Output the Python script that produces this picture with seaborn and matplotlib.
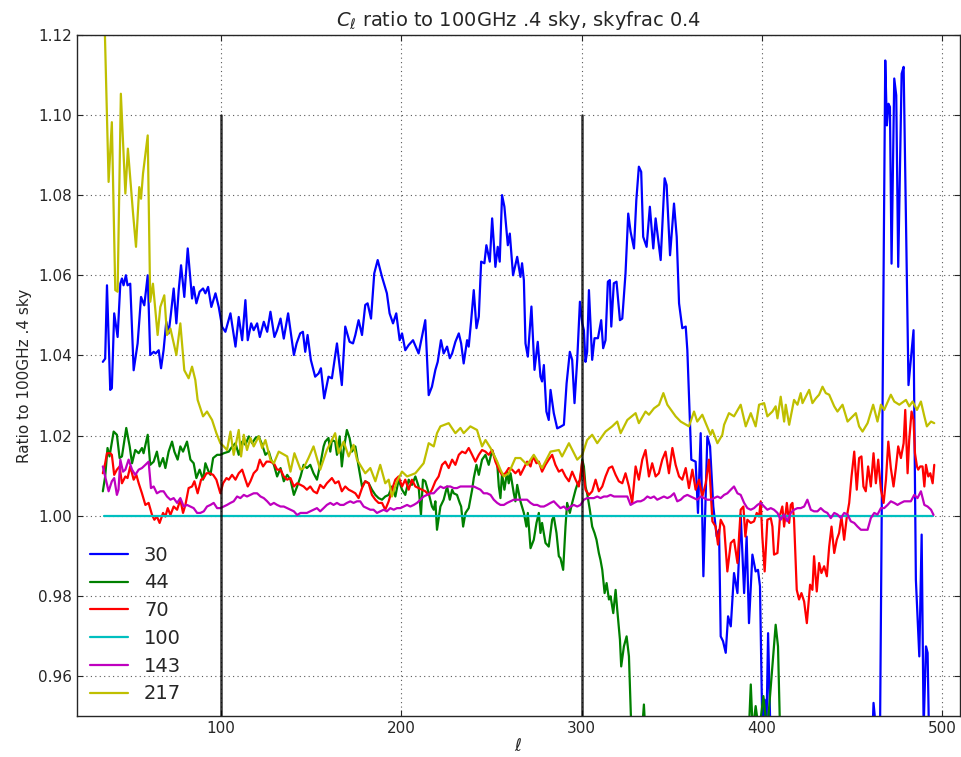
import numpy as np
import pandas as pd
import matplotlib
matplotlib.use('Agg')
import matplotlib.pyplot as plt
import seaborn as sns

sns.set_style('ticks')
plt.rcParams['font.family'] = ['DejaVu Sans']
plt.rcParams['mathtext.fontset'] = 'dejavusans'

# 30 GHz
ell_30 = [34.4, 35.7, 36.7, 38.5, 39.4, 40.7, 42.6, 44.1, 45.0, 45.9, 47.2, 48.1, 49.6, 51.5, 53.7, 55.6, 57.4,
          59.3, 60.7, 62.6, 63.7, 65.4, 66.7, 68.1, 69.6, 70.9, 72.2, 73.7, 75.2, 76.5, 77.8, 79.6, 81.5, 83.9,
          84.8, 86.3, 88.1, 90.0, 91.3, 92.8, 94.6, 96.9, 98.7, 100.6, 102.4, 105.2, 108.0, 109.8, 111.7, 113.5,
          114.8, 116.7, 118.1, 120.0, 121.5, 123.7, 125.6, 127.4, 129.6, 131.1, 133.0, 134.8, 137.2, 140.4,
          141.9, 143.9, 145.4, 146.7, 148.0, 149.8, 152.2, 154.1, 155.4, 157.2, 159.6, 161.5, 164.3, 167.0,
          168.9, 171.3, 173.2, 174.5, 176.3, 178.2, 180.0, 181.3, 183.2, 185.0, 186.9, 189.3, 192.0, 193.5,
          195.4, 197.2, 199.1, 200.4, 202.2, 204.1, 206.5, 209.6, 213.3, 215.2, 217.0, 218.9, 220.2, 222.0,
          223.5, 225.4, 226.9, 228.2, 230.0, 231.9, 233.2, 234.6, 236.5, 237.4, 238.7, 240.2, 241.7, 243.0,
          244.3, 246.1, 247.2, 249.1, 250.4, 252.2, 253.5, 254.6, 255.9, 257.2, 259.1, 260.2, 262.0, 264.3,
          266.1, 267.0, 268.0, 268.9, 270.2, 272.2, 273.9, 275.7, 277.2, 278.1, 279.1, 280.5, 281.8, 282.8,
          284.6, 286.5, 288.3, 290.2, 291.7, 293.5, 294.8, 296.1, 297.6, 299.1, 300.4, 301.3, 302.2, 303.1,
          304.1, 305.9, 307.2, 309.1, 310.9, 312.0, 313.3, 314.6, 315.7, 316.5, 317.9, 319.4, 321.3, 322.6,
          324.4, 325.9, 327.2, 329.1, 330.4, 331.8, 333.1, 334.2, 336.1, 337.9, 339.8, 341.1, 343.9, 346.1,
          347.2, 349.1, 351.3, 352.8, 354.1, 355.9, 357.8, 358.7, 360.9, 363.3, 364.6, 366.1, 367.6, 369.8,
          371.3, 373.1, 375.0, 376.3, 377.2, 378.5, 380.0, 381.3, 382.8, 384.6, 386.5, 388.3, 390.2, 391.6,
          392.9, 394.8, 396.6, 397.9, 399.0, 400.3, 401.6, 402.6, 403.5, 405.0, 430.0, 461.0, 462.0, 463.3,
          465.5, 468.5, 469.4, 470.3, 471.1, 472.0, 473.5, 474.6, 475.7, 477.6, 478.7, 481.4, 484.2, 485.5,
          487.4, 488.7, 489.8, 491.1, 492.0, 492.9, 494.0]
ratio_30 = [1.0384, 1.0392, 1.0575, 1.0314, 1.0318, 1.0505, 1.0446, 1.0579, 1.0592, 1.0575, 1.0600, 1.0575,
            1.0579, 1.0363, 1.0430, 1.0546, 1.0525, 1.0600, 1.0401, 1.0409, 1.0405, 1.0413, 1.0368, 1.0413,
            1.0484, 1.0455, 1.0505, 1.0567, 1.0480, 1.0563, 1.0625, 1.0546, 1.0667, 1.0542, 1.0571, 1.0530,
            1.0559, 1.0567, 1.0555, 1.0571, 1.0521, 1.0555, 1.0521, 1.0471, 1.0459, 1.0505, 1.0422, 1.0496,
            1.0438, 1.0538, 1.0438, 1.0480, 1.0463, 1.0480, 1.0446, 1.0484, 1.0459, 1.0509, 1.0446, 1.0463,
            1.0492, 1.0442, 1.0505, 1.0401, 1.0430, 1.0455, 1.0459, 1.0409, 1.0451, 1.0389, 1.0347, 1.0355,
            1.0368, 1.0293, 1.0347, 1.0343, 1.0430, 1.0326, 1.0472, 1.0434, 1.0430, 1.0451, 1.0488, 1.0451,
            1.0526, 1.0530, 1.0492, 1.0605, 1.0638, 1.0596, 1.0555, 1.0505, 1.0480, 1.0505, 1.0438, 1.0455,
            1.0413, 1.0426, 1.0438, 1.0405, 1.0488, 1.0301, 1.0322, 1.0364, 1.0384, 1.0438, 1.0405, 1.0422,
            1.0393, 1.0405, 1.0434, 1.0455, 1.0430, 1.0380, 1.0438, 1.0422, 1.0484, 1.0563, 1.0468, 1.0497,
            1.0634, 1.0630, 1.0675, 1.0634, 1.0742, 1.0621, 1.0671, 1.0634, 1.0800, 1.0771, 1.0675, 1.0704,
            1.0600, 1.0646, 1.0596, 1.0630, 1.0588, 1.0430, 1.0397, 1.0522, 1.0364, 1.0434, 1.0347, 1.0335,
            1.0376, 1.0260, 1.0239, 1.0314, 1.0256, 1.0218, 1.0222, 1.0227, 1.0330, 1.0409, 1.0389, 1.0281,
            1.0389, 1.0534, 1.0480, 1.0463, 1.0384, 1.0409, 1.0563, 1.0389, 1.0443, 1.0443, 1.0488, 1.0418,
            1.0438, 1.0584, 1.0588, 1.0472, 1.0580, 1.0584, 1.0488, 1.0492, 1.0605, 1.0754, 1.0709, 1.0667,
            1.0788, 1.0871, 1.0858, 1.0696, 1.0671, 1.0771, 1.0667, 1.0742, 1.0638, 1.0842, 1.0825, 1.0650,
            1.0779, 1.0696, 1.0530, 1.0468, 1.0472, 1.0413, 1.0140, 1.0135, 1.0007, 1.0206, 0.9849, 1.0198,
            1.0173, 1.0023, 0.9948, 0.9965, 0.9699, 0.9687, 0.9658, 0.9749, 0.9724, 0.9857, 0.9807, 1.0003,
            0.9807, 0.9948, 0.9732, 0.9903, 0.9861, 0.9865, 0.9824, 0.9470, 0.9541, 0.9470, 0.9707, 0.9420,
            0.9200, 0.9400, 0.9533, 0.9470, 0.9400, 1.1136, 1.0974, 1.1028, 1.1020, 1.0629, 1.1091, 1.1049,
            1.0621, 1.1103, 1.1120, 1.0326, 1.0463, 0.9840, 0.9649, 0.9953, 0.9470, 0.9674, 0.9658, 0.9420,
            0.9300]

# 44 GHz
ell_44 = [34.4, 35.7, 37.0, 38.1, 40.4, 42.2, 43.7, 45.0, 47.4, 49.3, 50.6, 52.4, 54.3, 56.1, 57.0, 59.3, 60.7,
          62.6, 64.4, 65.9, 67.8, 69.1, 70.9, 72.8, 74.1, 75.9, 77.4, 78.9, 81.1, 83.0, 84.8, 86.3, 88.1, 90.0,
          91.3, 93.1, 94.1, 95.6, 97.8, 99.6, 101.5, 104.3, 105.6, 108.0, 109.8, 111.7, 113.5, 115.4, 117.2,
          119.1, 120.9, 122.8, 124.6, 126.5, 127.8, 129.3, 131.1, 133.0, 134.8, 136.7, 138.5, 140.4, 142.2,
          144.1, 145.8, 147.6, 149.5, 151.3, 153.2, 155.0, 156.9, 157.8, 159.6, 160.6, 161.5, 163.3, 164.3,
          165.8, 167.0, 168.0, 169.8, 171.3, 172.6, 174.5, 176.3, 178.2, 180.0, 181.9, 183.7, 185.6, 187.4,
          189.3, 191.1, 193.0, 194.8, 196.7, 198.5, 200.4, 202.2, 204.1, 205.9, 207.8, 209.6, 210.9, 212.0,
          213.3, 215.2, 217.0, 218.0, 218.9, 219.8, 221.7, 223.5, 225.4, 226.9, 228.2, 229.1, 230.9, 232.4,
          233.2, 234.3, 235.6, 237.4, 239.3, 240.2, 241.7, 243.0, 244.8, 246.7, 248.5, 250.4, 251.3, 253.2,
          254.1, 255.0, 255.9, 257.2, 258.7, 259.6, 260.6, 262.4, 263.3, 264.3, 266.1, 268.0, 269.4, 270.2,
          271.7, 273.5, 275.0, 276.3, 277.2, 278.1, 280.0, 281.8, 283.7, 284.6, 286.1, 287.4, 288.3, 289.8,
          291.1, 292.0, 293.5, 294.8, 296.7, 297.9, 299.4, 300.4, 301.3, 302.2, 303.1, 304.6, 305.9, 307.2,
          308.3, 309.6, 310.5, 311.5, 312.8, 313.9, 315.2, 316.1, 317.6, 318.9, 319.8, 321.3, 322.0, 323.5,
          325.0, 326.3, 327.6, 330.0, 333.5, 334.6, 335.5, 360.0, 392.8, 393.9, 395.0, 396.6, 398.5, 400.9,
          403.0, 407.7, 409.0, 410.1, 450.0, 495.0]
ratio_44 = [1.0061, 1.0098, 1.0169, 1.0148, 1.0210, 1.0202, 1.0144, 1.0148, 1.0219, 1.0173, 1.0131, 1.0164,
            1.0156, 1.0169, 1.0156, 1.0202, 1.0127, 1.0135, 1.0160, 1.0123, 1.0144, 1.0119, 1.0160, 1.0185,
            1.0160, 1.0140, 1.0173, 1.0160, 1.0185, 1.0140, 1.0131, 1.0094, 1.0115, 1.0090, 1.0131, 1.0110,
            1.0102, 1.0144, 1.0152, 1.0152, 1.0156, 1.0160, 1.0169, 1.0181, 1.0152, 1.0185, 1.0177, 1.0198,
            1.0181, 1.0194, 1.0198, 1.0177, 1.0152, 1.0160, 1.0140, 1.0127, 1.0098, 1.0119, 1.0086, 1.0102,
            1.0090, 1.0052, 1.0073, 1.0098, 1.0127, 1.0119, 1.0127, 1.0106, 1.0090, 1.0127, 1.0173, 1.0185,
            1.0194, 1.0160, 1.0189, 1.0185, 1.0152, 1.0198, 1.0123, 1.0164, 1.0214, 1.0194, 1.0160, 1.0173,
            1.0123, 1.0073, 1.0086, 1.0081, 1.0065, 1.0052, 1.0044, 1.0040, 1.0048, 1.0052, 1.0073, 1.0048,
            1.0090, 1.0065, 1.0052, 1.0090, 1.0077, 1.0098, 1.0073, 1.0002, 1.0090, 1.0086, 1.0056, 1.0023,
            1.0015, 1.0036, 0.9965, 1.0023, 1.0040, 1.0073, 1.0040, 1.0065, 1.0056, 1.0052, 1.0032, 1.0023,
            0.9973, 1.0007, 1.0019, 1.0065, 1.0094, 1.0127, 1.0102, 1.0140, 1.0152, 1.0127, 1.0164, 1.0152,
            1.0131, 1.0073, 1.0044, 1.0106, 1.0065, 1.0110, 1.0081, 1.0106, 1.0056, 1.0036, 1.0077, 1.0036,
            1.0007, 0.9973, 1.0007, 0.9919, 0.9940, 0.9982, 1.0007, 0.9957, 0.9982, 0.9932, 0.9923, 0.9990,
            0.9998, 0.9957, 0.9899, 0.9894, 0.9865, 0.9973, 1.0032, 1.0007, 1.0032, 1.0065, 1.0081, 1.0090,
            1.0140, 1.0123, 1.0073, 1.0056, 1.0015, 0.9973, 0.9957, 0.9940, 0.9907, 0.9890, 0.9865, 0.9807,
            0.9832, 0.9791, 0.9799, 0.9757, 0.9815, 0.9766, 0.9691, 0.9624, 0.9674, 0.9699, 0.9649, 0.9470,
            0.9400, 0.9460, 0.9529, 0.9450, 0.9300, 0.9460, 0.9579, 0.9460, 0.9525, 0.9460, 0.9550, 0.9460,
            0.9728, 0.9674, 0.9470, 0.9300, 0.9300]

# 70 GHz
ell_70 = [34.4, 35.7, 36.7, 38.5, 39.4, 40.7, 42.2, 43.7, 45.0, 46.9, 48.1, 49.6, 51.5, 53.0, 54.3, 56.1, 58.0,
          59.8, 61.7, 63.0, 64.4, 65.9, 67.8, 69.1, 70.4, 71.9, 73.7, 75.6, 77.4, 78.9, 80.2, 82.0, 83.9, 85.2,
          87.0, 88.9, 90.4, 91.9, 93.7, 95.6, 97.4, 99.6, 101.1, 103.0, 104.3, 106.1, 108.0, 109.8, 111.7,
          113.5, 114.8, 116.3, 118.1, 120.0, 121.5, 123.3, 125.2, 127.0, 129.3, 131.1, 133.0, 134.8, 136.7,
          138.5, 140.4, 142.2, 144.1, 145.8, 147.6, 149.5, 151.3, 153.2, 155.0, 156.9, 158.7, 161.5, 163.3,
          165.2, 167.0, 168.9, 170.8, 172.6, 174.5, 176.3, 178.2, 180.0, 181.9, 183.7, 185.6, 187.4, 189.3,
          191.1, 193.0, 194.8, 196.7, 198.5, 200.4, 202.2, 204.1, 205.9, 207.8, 209.6, 211.5, 213.3, 215.2,
          217.0, 218.9, 220.7, 222.6, 224.4, 226.3, 228.2, 230.0, 231.9, 233.7, 235.6, 237.4, 239.3, 241.1,
          243.0, 244.8, 246.7, 248.5, 250.4, 252.2, 254.1, 255.9, 257.8, 259.6, 261.5, 263.3, 265.2, 266.1,
          268.0, 269.8, 271.7, 273.1, 275.0, 276.3, 278.1, 280.0, 281.8, 283.7, 285.5, 287.4, 289.2, 291.1,
          293.0, 294.8, 296.7, 298.5, 300.4, 302.2, 304.1, 305.9, 307.8, 309.6, 311.5, 313.3, 315.2, 317.0,
          318.9, 320.7, 322.6, 324.4, 326.3, 328.1, 330.0, 331.8, 333.7, 335.5, 337.4, 339.2, 341.1, 342.9,
          344.8, 346.6, 348.5, 350.4, 352.2, 354.1, 355.9, 357.8, 359.6, 361.5, 363.3, 365.2, 367.0, 368.9,
          370.7, 372.6, 374.4, 375.7, 377.2, 379.1, 380.9, 382.8, 384.6, 386.5, 388.3, 389.8, 390.9, 392.0,
          393.9, 395.7, 397.2, 398.5, 399.4, 400.3, 401.6, 403.1, 405.0, 405.9, 406.8, 408.7, 410.2, 411.4,
          412.4, 413.9, 415.2, 416.1, 417.0, 417.9, 419.4, 420.7, 422.0, 423.5, 425.0, 426.8, 428.1, 429.0,
          430.5, 431.8, 433.1, 434.6, 436.1, 437.4, 438.7, 440.2, 441.6, 442.9, 444.2, 445.7, 447.2, 448.5,
          449.8, 451.3, 452.7, 454.0, 455.3, 456.4, 457.7, 459.0, 460.5, 462.0, 463.3, 464.6, 466.1, 467.6,
          468.9, 470.2, 471.6, 473.1, 474.4, 475.7, 477.2, 478.7, 479.6, 480.9, 481.8, 483.1, 484.2, 485.0,
          486.1, 486.8, 487.9, 489.2, 490.2, 491.1, 492.4, 493.5, 494.8, 495.7]
ratio_70 = [1.0106, 1.0131, 1.0156, 1.0156, 1.0152, 1.0102, 1.0115, 1.0123, 1.0081, 1.0098, 1.0094, 1.0123,
            1.0090, 1.0102, 1.0081, 1.0056, 1.0027, 1.0032, 1.0002, 0.9990, 0.9998, 0.9982, 1.0007, 0.9998,
            1.0019, 1.0002, 1.0023, 1.0015, 1.0040, 1.0007, 1.0027, 1.0069, 1.0073, 1.0086, 1.0056, 1.0090,
            1.0094, 1.0106, 1.0106, 1.0102, 1.0090, 1.0056, 1.0081, 1.0094, 1.0090, 1.0102, 1.0090, 1.0106,
            1.0115, 1.0090, 1.0073, 1.0086, 1.0106, 1.0115, 1.0140, 1.0123, 1.0135, 1.0135, 1.0131, 1.0115,
            1.0115, 1.0098, 1.0090, 1.0094, 1.0073, 1.0081, 1.0077, 1.0073, 1.0065, 1.0073, 1.0061, 1.0056,
            1.0077, 1.0069, 1.0081, 1.0094, 1.0081, 1.0086, 1.0061, 1.0073, 1.0065, 1.0061, 1.0056, 1.0044,
            1.0069, 1.0086, 1.0081, 1.0052, 1.0040, 1.0032, 1.0032, 1.0015, 1.0036, 1.0065, 1.0090, 1.0098,
            1.0073, 1.0090, 1.0065, 1.0090, 1.0073, 1.0069, 1.0065, 1.0061, 1.0052, 1.0065, 1.0086, 1.0098,
            1.0127, 1.0135, 1.0119, 1.0140, 1.0127, 1.0152, 1.0160, 1.0156, 1.0169, 1.0152, 1.0135, 1.0152,
            1.0164, 1.0160, 1.0152, 1.0164, 1.0135, 1.0115, 1.0102, 1.0106, 1.0119, 1.0115, 1.0106, 1.0115,
            1.0102, 1.0119, 1.0135, 1.0123, 1.0148, 1.0131, 1.0135, 1.0110, 1.0127, 1.0140, 1.0152, 1.0127,
            1.0110, 1.0115, 1.0098, 1.0086, 1.0110, 1.0090, 1.0073, 1.0135, 1.0065, 1.0052, 1.0061, 1.0090,
            1.0061, 1.0073, 1.0098, 1.0119, 1.0123, 1.0102, 1.0086, 1.0081, 1.0106, 1.0073, 1.0032, 1.0123,
            1.0090, 1.0140, 1.0164, 1.0098, 1.0131, 1.0098, 1.0106, 1.0140, 1.0160, 1.0106, 1.0169, 1.0127,
            1.0098, 1.0090, 1.0119, 1.0069, 1.0115, 1.0065, 1.0090, 1.0048, 1.0081, 1.0140, 0.9986, 0.9973,
            0.9928, 0.9990, 0.9973, 0.9861, 0.9932, 0.9940, 0.9882, 1.0015, 1.0023, 0.9948, 0.9990, 0.9982,
            0.9986, 1.0007, 0.9998, 1.0036, 0.9948, 0.9861, 0.9990, 0.9994, 0.9973, 0.9903, 0.9907, 1.0003,
            1.0023, 0.9973, 1.0032, 0.9982, 1.0027, 1.0032, 0.9990, 0.9815, 0.9791, 0.9807, 0.9786, 0.9732,
            0.9828, 0.9815, 0.9899, 0.9811, 0.9882, 0.9857, 0.9874, 0.9849, 0.9923, 0.9973, 0.9907, 0.9940,
            0.9957, 0.9998, 0.9940, 0.9998, 1.0032, 1.0098, 1.0160, 1.0065, 1.0144, 1.0148, 1.0073, 1.0061,
            1.0123, 1.0073, 1.0156, 1.0081, 1.0140, 1.0065, 1.0032, 1.0090, 1.0185, 1.0119, 1.0073, 1.0119,
            1.0173, 1.0144, 1.0181, 1.0264, 1.0106, 1.0189, 1.0260, 1.0239, 1.0156, 1.0123, 1.0115, 1.0123,
            1.0123, 1.0073, 1.0127, 1.0098, 1.0106, 1.0081, 1.0127]

# 100 GHz (reference map)
ell_100 = [35.0, 100.0, 200.0, 300.0, 400.0, 495.0]
ratio_100 = [1.0, 1.0, 1.0, 1.0, 1.0, 1.0]

# 143 GHz
ell_143 = [34.4, 35.7, 37.6, 39.4, 40.7, 42.2, 43.1, 44.1, 45.6, 46.9, 48.7, 50.6, 52.4, 54.3, 56.1, 58.0, 59.8,
           61.1, 62.6, 64.4, 66.3, 68.1, 70.0, 71.9, 73.7, 75.6, 77.4, 79.3, 81.1, 83.0, 84.8, 86.7, 88.5,
           90.4, 92.2, 94.1, 95.9, 97.8, 99.6, 101.5, 103.3, 105.2, 107.0, 108.9, 110.7, 112.6, 114.4, 116.3,
           118.1, 120.0, 121.9, 123.7, 125.6, 127.4, 129.3, 131.1, 133.0, 134.8, 136.7, 138.5, 140.4, 142.2,
           144.1, 145.8, 147.6, 149.5, 151.3, 153.2, 155.0, 156.9, 158.7, 160.6, 162.4, 164.3, 166.1, 168.0,
           169.8, 171.7, 173.5, 175.4, 177.2, 179.1, 180.9, 182.8, 184.6, 186.5, 188.3, 190.2, 192.0, 193.9,
           195.8, 197.6, 199.5, 201.3, 203.2, 205.0, 206.9, 208.7, 210.6, 212.4, 214.3, 216.1, 218.0, 219.8,
           221.7, 223.5, 225.4, 227.2, 229.1, 230.9, 232.8, 234.6, 236.5, 238.3, 240.2, 242.0, 243.9, 245.7,
           247.6, 249.5, 251.3, 253.2, 255.0, 256.9, 258.7, 260.6, 262.4, 264.3, 266.1, 268.0, 269.8, 271.7,
           273.5, 275.4, 277.2, 279.1, 280.9, 282.8, 284.6, 286.5, 288.3, 290.2, 292.0, 293.9, 295.7, 297.6,
           299.4, 301.3, 303.1, 305.0, 306.8, 308.7, 310.5, 312.4, 314.2, 316.1, 318.0, 319.8, 321.7, 323.5,
           325.4, 327.2, 329.1, 330.9, 332.8, 334.6, 336.5, 338.3, 340.2, 342.0, 343.9, 345.7, 347.6, 349.4,
           351.3, 353.1, 355.0, 356.8, 358.7, 360.5, 362.4, 364.2, 366.1, 367.9, 369.8, 371.6, 373.5, 375.4,
           377.2, 379.1, 380.9, 382.8, 384.6, 386.5, 388.3, 390.2, 392.0, 393.9, 395.7, 397.6, 399.4, 401.3,
           403.1, 405.0, 406.8, 408.7, 410.5, 412.4, 414.2, 416.1, 417.9, 419.8, 421.6, 423.5, 425.3, 427.2,
           429.0, 430.9, 432.7, 434.6, 436.4, 438.3, 440.2, 442.0, 443.9, 445.7, 447.6, 449.4, 451.3, 453.1,
           455.0, 456.8, 458.7, 460.5, 462.4, 464.2, 466.1, 467.9, 469.8, 471.6, 473.5, 475.3, 477.2, 479.0,
           480.9, 482.7, 484.6, 486.4, 488.3, 490.2, 492.0, 493.9, 495.3]
ratio_143 = [1.0123, 1.0098, 1.0061, 1.0086, 1.0094, 1.0052, 1.0065, 1.0140, 1.0110, 1.0115, 1.0140, 1.0115,
             1.0102, 1.0115, 1.0119, 1.0127, 1.0135, 1.0069, 1.0073, 1.0056, 1.0061, 1.0061, 1.0048, 1.0040,
             1.0044, 1.0032, 1.0044, 1.0023, 1.0027, 1.0023, 1.0019, 1.0007, 1.0007, 1.0011, 1.0023, 1.0027,
             1.0032, 1.0019, 1.0019, 1.0023, 1.0027, 1.0032, 1.0036, 1.0048, 1.0044, 1.0052, 1.0048, 1.0052,
             1.0056, 1.0056, 1.0048, 1.0044, 1.0036, 1.0027, 1.0032, 1.0027, 1.0023, 1.0023, 1.0019, 1.0015,
             1.0011, 1.0002, 1.0007, 1.0007, 1.0007, 1.0011, 1.0015, 1.0019, 1.0011, 1.0019, 1.0027, 1.0032,
             1.0027, 1.0032, 1.0027, 1.0027, 1.0032, 1.0036, 1.0032, 1.0036, 1.0036, 1.0023, 1.0019, 1.0015,
             1.0015, 1.0007, 1.0011, 1.0015, 1.0011, 1.0019, 1.0015, 1.0019, 1.0019, 1.0023, 1.0027, 1.0023,
             1.0027, 1.0032, 1.0040, 1.0048, 1.0052, 1.0056, 1.0056, 1.0065, 1.0073, 1.0069, 1.0073, 1.0073,
             1.0069, 1.0069, 1.0073, 1.0073, 1.0073, 1.0073, 1.0073, 1.0069, 1.0065, 1.0056, 1.0056, 1.0052,
             1.0040, 1.0032, 1.0027, 1.0027, 1.0032, 1.0036, 1.0040, 1.0040, 1.0040, 1.0040, 1.0040, 1.0032,
             1.0027, 1.0027, 1.0023, 1.0023, 1.0027, 1.0032, 1.0036, 1.0027, 1.0019, 1.0023, 1.0015, 1.0023,
             1.0027, 1.0023, 1.0027, 1.0040, 1.0044, 1.0044, 1.0044, 1.0048, 1.0044, 1.0048, 1.0048, 1.0052,
             1.0048, 1.0048, 1.0048, 1.0048, 1.0048, 1.0027, 1.0032, 1.0036, 1.0036, 1.0040, 1.0048, 1.0044,
             1.0048, 1.0040, 1.0044, 1.0048, 1.0044, 1.0048, 1.0056, 1.0036, 1.0040, 1.0048, 1.0052, 1.0048,
             1.0044, 1.0040, 1.0048, 1.0044, 1.0040, 1.0040, 1.0044, 1.0048, 1.0044, 1.0052, 1.0056, 1.0065,
             1.0073, 1.0056, 1.0052, 1.0032, 1.0019, 1.0015, 1.0019, 1.0027, 1.0032, 1.0023, 1.0015, 1.0019,
             1.0015, 1.0007, 0.9990, 1.0003, 0.9986, 1.0007, 1.0015, 1.0019, 1.0019, 1.0023, 1.0040, 1.0015,
             1.0011, 1.0011, 1.0019, 1.0011, 1.0007, 0.9994, 1.0007, 1.0003, 0.9994, 1.0007, 1.0003, 0.9986,
             0.9982, 0.9973, 0.9965, 0.9965, 0.9965, 0.9994, 1.0007, 1.0003, 1.0019, 1.0019, 1.0027, 1.0036,
             1.0032, 1.0027, 1.0032, 1.0036, 1.0036, 1.0036, 1.0052, 1.0044, 1.0061, 1.0027, 1.0023, 1.0015,
             1.0002]

# 217 GHz
ell_217 = [35.0, 37.6, 39.4, 41.3, 42.6, 44.4, 46.9, 48.3, 51.1, 52.8, 54.6, 55.6, 56.7, 59.3, 60.7, 62.2, 64.8,
           66.3, 68.5, 70.0, 71.9, 75.2, 77.4, 79.6, 82.0, 83.9, 85.7, 87.0, 90.0, 92.2, 95.0, 97.4, 99.6, 101.5,
           103.3, 105.2, 107.0, 109.8, 111.1, 112.6, 114.4, 116.3, 118.1, 120.9, 122.8, 124.6, 127.4, 129.3,
           132.0, 136.7, 138.5, 140.7, 144.1, 145.8, 148.5, 151.3, 155.0, 158.7, 163.3, 165.2, 168.0, 170.8,
           173.5, 175.4, 180.0, 182.8, 185.6, 188.3, 191.1, 193.0, 194.8, 197.6, 200.4, 203.2, 207.8, 212.4,
           215.2, 218.0, 219.8, 221.7, 226.3, 230.0, 232.8, 234.6, 238.3, 242.0, 244.8, 246.7, 249.5, 253.2,
           255.0, 256.9, 259.6, 263.3, 266.1, 269.8, 273.5, 278.1, 282.8, 287.4, 289.2, 293.0, 297.6, 300.4,
           303.1, 305.9, 308.7, 313.3, 317.0, 319.8, 321.7, 325.4, 330.0, 331.8, 335.5, 337.4, 340.2, 343.0,
           345.4, 347.6, 352.2, 355.0, 359.6, 362.4, 364.2, 367.0, 368.9, 371.6, 372.6, 375.4, 378.1, 379.1,
           381.8, 384.6, 388.3, 391.1, 393.9, 396.6, 398.5, 401.3, 403.1, 405.9, 407.7, 408.7, 410.5, 412.4,
           413.3, 415.2, 417.9, 419.8, 421.6, 422.6, 424.4, 426.3, 428.1, 430.0, 431.8, 433.7, 435.5, 437.4,
           440.2, 442.0, 444.8, 447.6, 452.2, 454.0, 455.9, 458.7, 461.8, 464.2, 466.1, 467.9, 471.6, 473.5,
           476.3, 480.0, 481.8, 483.7, 486.1, 488.3, 490.2, 491.6, 493.9, 495.7]
ratio_217 = [1.1300, 1.0833, 1.0982, 1.0563, 1.0559, 1.1053, 1.0804, 1.0916, 1.0758, 1.0671, 1.0820, 1.0791,
             1.0854, 1.0949, 1.0534, 1.0579, 1.0451, 1.0521, 1.0550, 1.0451, 1.0467, 1.0401, 1.0480, 1.0363,
             1.0343, 1.0372, 1.0339, 1.0289, 1.0248, 1.0260, 1.0239, 1.0206, 1.0181, 1.0173, 1.0164, 1.0210,
             1.0152, 1.0214, 1.0148, 1.0202, 1.0164, 1.0194, 1.0173, 1.0198, 1.0169, 1.0189, 1.0140, 1.0131,
             1.0160, 1.0148, 1.0110, 1.0156, 1.0115, 1.0119, 1.0144, 1.0173, 1.0115, 1.0164, 1.0206, 1.0156,
             1.0185, 1.0148, 1.0177, 1.0140, 1.0106, 1.0119, 1.0086, 1.0127, 1.0081, 1.0090, 1.0048, 1.0086,
             1.0110, 1.0098, 1.0106, 1.0131, 1.0181, 1.0173, 1.0206, 1.0223, 1.0231, 1.0206, 1.0219, 1.0206,
             1.0223, 1.0214, 1.0173, 1.0189, 1.0169, 1.0135, 1.0115, 1.0098, 1.0106, 1.0144, 1.0144, 1.0127,
             1.0152, 1.0119, 1.0160, 1.0164, 1.0148, 1.0181, 1.0140, 1.0152, 1.0189, 1.0202, 1.0181, 1.0210,
             1.0223, 1.0235, 1.0206, 1.0239, 1.0256, 1.0231, 1.0260, 1.0252, 1.0268, 1.0277, 1.0306, 1.0277,
             1.0248, 1.0235, 1.0223, 1.0260, 1.0235, 1.0252, 1.0231, 1.0202, 1.0214, 1.0181, 1.0202, 1.0227,
             1.0256, 1.0248, 1.0277, 1.0223, 1.0256, 1.0223, 1.0277, 1.0281, 1.0248, 1.0260, 1.0273, 1.0243,
             1.0297, 1.0235, 1.0277, 1.0227, 1.0289, 1.0277, 1.0306, 1.0281, 1.0297, 1.0314, 1.0281, 1.0293,
             1.0302, 1.0322, 1.0306, 1.0302, 1.0273, 1.0260, 1.0277, 1.0235, 1.0256, 1.0223, 1.0210, 1.0231,
             1.0277, 1.0235, 1.0277, 1.0264, 1.0302, 1.0285, 1.0277, 1.0289, 1.0273, 1.0285, 1.0264, 1.0285,
             1.0248, 1.0223, 1.0235, 1.0231]

marks = [100, 300]

series = [('30', ell_30, ratio_30, 'b'),
          ('44', ell_44, ratio_44, 'g'),
          ('70', ell_70, ratio_70, 'r'),
          ('100', ell_100, ratio_100, 'c'),
          ('143', ell_143, ratio_143, 'm'),
          ('217', ell_217, ratio_217, 'y')]

colors = {'b': (0, 0, 1), 'g': (0, 0.5, 0), 'r': (1, 0, 0),
          'c': (0, 0.75, 0.75), 'm': (0.75, 0, 0.75), 'y': (0.75, 0.75, 0)}

fig = plt.figure(figsize=(9.61, 7.57), dpi=100)
ax = fig.add_axes([0.080, 0.054, 0.919, 0.900])

for name, x, y, c in series:
    sns.lineplot(x=x, y=y, ax=ax, color=colors[c], lw=1.6, sort=False, estimator=None, label=name)

for m in marks:
    ax.plot([m, m], [0.9, 1.1], color='k', lw=1.8, alpha=0.8)

ax.set_xlim(20, 510)
ax.set_ylim(0.95, 1.12)
ax.set_xticks([100, 200, 300, 400, 500])
ax.set_yticks(np.arange(0.96, 1.121, 0.02))
ax.yaxis.set_major_formatter(matplotlib.ticker.FormatStrFormatter('%.2f'))
ax.grid(True, linestyle=(0, (1, 3)), color='0.35', lw=0.8)
ax.tick_params(direction='in', top=True, right=True, labelsize=11, length=4)
for s in ax.spines.values():
    s.set_linewidth(1.0)

ax.set_title(r'$C_\ell$ ratio to 100GHz .4 sky, skyfrac 0.4', fontsize=14)
ax.set_xlabel(r'$\ell$', fontsize=12, labelpad=1)
ax.set_ylabel('Ratio to 100GHz .4 sky', fontsize=11)
ax.legend(loc='lower left', frameon=False, fontsize=14, handlelength=2.0, labelspacing=0.45,
          borderaxespad=0.25)

fig.savefig('out.png', dpi=100)
